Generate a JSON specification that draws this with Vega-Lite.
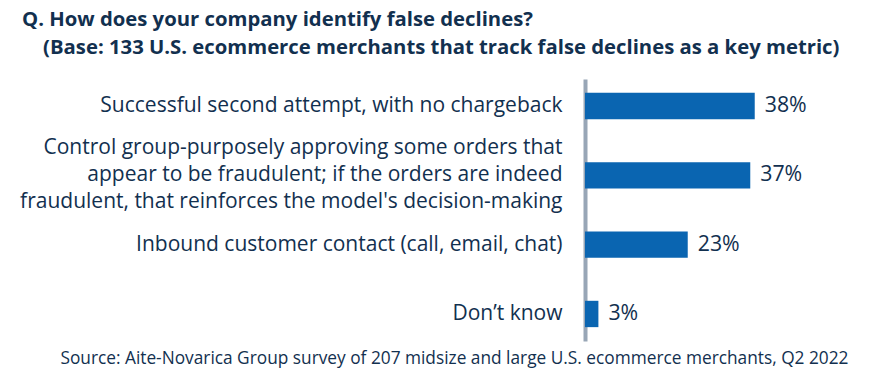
{
  "$schema": "https://vega.github.io/schema/vega-lite/v6.json",
  "autosize": "none",
  "width": 268,
  "height": 262,
  "padding": {"left": 585, "top": 79, "right": 35, "bottom": 49},
  "background": "white",
  "config": {"view": {"stroke": null}, "font": "Open Sans"},
  "title": {
    "text": ["Q. How does your company identify false declines?", "\u200b\u00a0\u00a0\u00a0\u00a0(Base: 133 U.S. ecommerce merchants that track false declines as a key metric)"],
    "anchor": "start",
    "frame": "group",
    "dx": -563,
    "offset": 21,
    "font": "Open Sans",
    "fontSize": 20.3,
    "fontWeight": "bold",
    "color": "#12304f",
    "lineHeight": 28
  },
  "data": {
    "values": [
      {"label": "Successful second attempt, with no chargeback", "value": 0.38},
      {"label": "Control group-purposely approving some orders that|appear to be fraudulent; if the orders are indeed|fraudulent, that reinforces the model's decision-making", "value": 0.37},
      {"label": "Inbound customer contact (call, email, chat)", "value": 0.23},
      {"label": "Don’t know", "value": 0.03}
    ]
  },
  "encoding": {
    "y": {
      "field": "label",
      "type": "nominal",
      "sort": null,
      "scale": {"paddingInner": 0.62, "paddingOuter": 0.2},
      "axis": {
        "title": null,
        "ticks": false,
        "domainColor": "#98a6b6",
        "domainWidth": 4,
        "labelPadding": 23,
        "labelFont": "Open Sans",
        "labelFontSize": 21,
        "labelColor": "#12304f",
        "labelLimit": 0,
        "labelLineHeight": 27,
        "labelExpr": "split(datum.label, '|')",
        "labelOffset": {"condition": {"test": "indexof(datum.value, '|') >= 0", "value": -27}, "value": 0}
      }
    },
    "x": {
      "field": "value",
      "type": "quantitative",
      "scale": {"domain": [0, 0.6]},
      "axis": {
        "domain": false,
        "ticks": false,
        "labels": false,
        "grid": false,
        "title": "Source: Aite-Novarica Group survey of 207 midsize and large U.S. ecommerce merchants, Q2 2022",
        "titleFont": "Open Sans",
        "titleFontSize": 17.3,
        "titleFontWeight": "normal",
        "titleColor": "#12304f",
        "titleAnchor": "end",
        "titleAlign": "right",
        "titleX": 263,
        "titleY": 22,
        "titleBaseline": "alphabetic"
      }
    }
  },
  "layer": [
    {"mark": {"type": "bar", "color": "#0a65b1"}},
    {
      "mark": {"type": "text", "align": "left", "dx": 10, "font": "Open Sans", "fontSize": 21.3, "color": "#12304f"},
      "encoding": {"text": {"field": "value", "format": ".0%"}}
    }
  ]
}
